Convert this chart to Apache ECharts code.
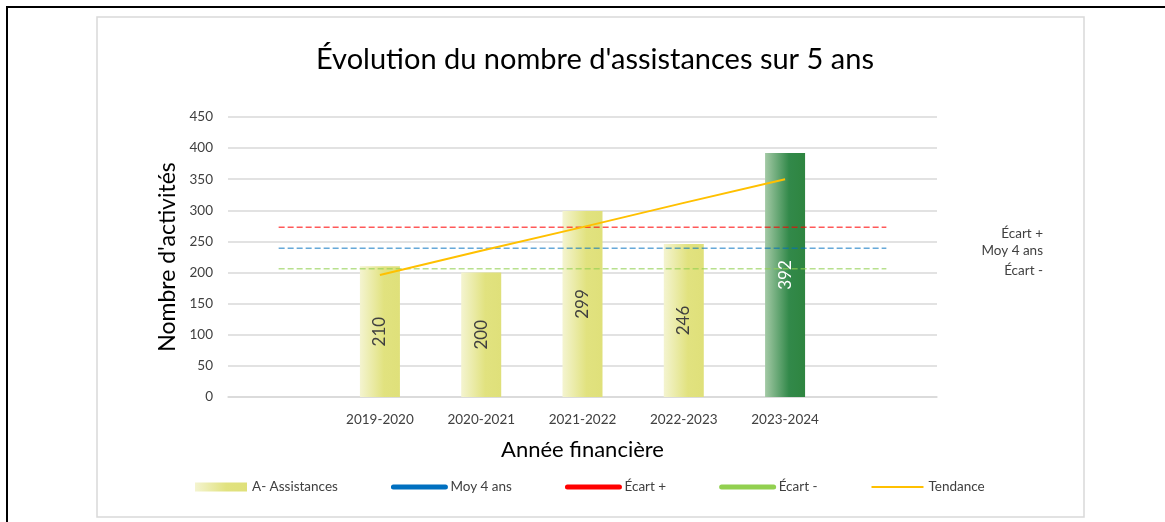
<!DOCTYPE html>
<html>
<head>
<meta charset="utf-8">
<script src="https://cdn.jsdelivr.net/npm/echarts@6/dist/echarts.min.js"></script>
<style>
html,body{margin:0;padding:0;background:#fff;}
#main{width:1165px;height:522px;}
</style>
</head>
<body>
<div id="main"></div>
<script>
// données
var annees = ['', '2019-2020', '2020-2021', '2021-2022', '2022-2023', '2023-2024', ' '];
var assistances = [null, 210, 200, 299, 246, 392, null];
var moy4ans = [239, 239, 239, 239, 239, 239, 239];
var ecartPlus = [273, 273, 273, 273, 273, 273, 273];
var ecartMoins = [206, 206, 206, 206, 206, 206, 206];
var tendance = [null, 196, 235, 273, 312, 350, null];
var yTicks = [0, 50, 100, 150, 200, 250, 300, 350, 400, 450];

var police = 'Lato, "Open Sans", sans-serif';

var jaune = new echarts.graphic.LinearGradient(0, 0, 1, 0, [
	{offset: 0, color: '#f4f4d0'},
	{offset: 0.6, color: '#e1e27f'},
	{offset: 1, color: '#dfe07a'}
]);
var vert = new echarts.graphic.LinearGradient(0, 0, 1, 0, [
	{offset: 0, color: '#a3c9a5'},
	{offset: 0.6, color: '#32894a'},
	{offset: 1, color: '#2e8540'}
]);

// la dernière année est en vert
var barData = assistances.map(function (v, i) {
	if (v === null) return null;
	if (i === 5) {
		return {value: v, itemStyle: {color: vert}, label: {color: '#ffffff'}};
	}
	return {value: v, itemStyle: {color: jaune}};
});

var myChart = echarts.init(document.getElementById('main'));

var option = {
	animation: false,
	title: {
		text: "Évolution du nombre d'assistances sur 5 ans",
		left: 590,
		textAlign: 'center',
		top: 40,
		textStyle: {fontFamily: police, fontSize: 29, fontWeight: 'normal', color: '#000'}
	},
	grid: {left: 228, right: 228, top: 117, bottom: 125},
	legend: {
		left: 190,
		top: 475,
		itemWidth: 52,
		itemHeight: 9,
		itemGap: 53,
		textStyle: {fontFamily: police, fontSize: 13.5, color: '#404040'},
		data: [
			{name: 'A- Assistances', icon: 'rect', itemStyle: {color: jaune}},
			{name: 'Moy 4 ans', itemStyle: {opacity: 0}, lineStyle: {type: 'solid', width: 5, cap: 'round', color: '#0070c0', opacity: 1}},
			{name: 'Écart +', itemStyle: {opacity: 0}, lineStyle: {type: 'solid', width: 5, cap: 'round', color: '#ff0000', opacity: 1}},
			{name: 'Écart -', itemStyle: {opacity: 0}, lineStyle: {type: 'solid', width: 5, cap: 'round', color: '#92d050', opacity: 1}},
			{name: 'Tendance', itemStyle: {opacity: 0}, lineStyle: {type: 'solid', width: 2, color: '#ffc000', opacity: 1}}
		]
	},
	xAxis: {
		type: 'category',
		data: annees,
		name: 'Année financière',
		nameLocation: 'middle',
		nameGap: 42,
		nameTextStyle: {fontFamily: police, fontSize: 22, color: '#000'},
		axisLine: {lineStyle: {color: '#d9d9d9', width: 1.5}},
		axisTick: {show: false},
		axisLabel: {fontFamily: police, fontSize: 13.5, color: '#404040', margin: 16, interval: 0}
	},
	yAxis: {
		type: 'value',
		min: yTicks[0],
		max: yTicks[yTicks.length - 1],
		interval: 50,
		name: "Nombre d'activités",
		nameLocation: 'middle',
		nameGap: 45,
		nameTextStyle: {fontFamily: police, fontSize: 23, color: '#000'},
		axisLine: {show: false},
		axisTick: {show: false},
		splitLine: {lineStyle: {color: '#d9d9d9', width: 1.5}},
		axisLabel: {fontFamily: police, fontSize: 13.5, color: '#404040', margin: 15}
	},
	series: [
		{
			name: 'A- Assistances',
			type: 'bar',
			barWidth: 40,
			data: barData,
			itemStyle: {color: jaune},
			label: {
				show: true,
				position: 'inside',
				rotate: 90,
				fontFamily: police,
				fontSize: 17,
				color: '#404040'
			},
			z: 2
		},
		{
			name: 'Moy 4 ans',
			type: 'line',
			data: moy4ans,
			symbol: 'none',
			lineStyle: {color: '#0070c0', width: 1.5, type: [6, 3], opacity: 0.6},
			itemStyle: {color: '#0070c0'},
			z: 3
		},
		{
			name: 'Écart +',
			type: 'line',
			data: ecartPlus,
			symbol: 'none',
			lineStyle: {color: '#ff0000', width: 1.5, type: [6, 3], opacity: 0.65},
			itemStyle: {color: '#ff0000'},
			z: 3
		},
		{
			name: 'Écart -',
			type: 'line',
			data: ecartMoins,
			symbol: 'none',
			lineStyle: {color: '#92d050', width: 1.5, type: [6, 3], opacity: 0.65},
			itemStyle: {color: '#92d050'},
			z: 3
		},
		{
			name: 'Tendance',
			type: 'line',
			data: tendance,
			symbol: 'none',
			lineStyle: {color: '#ffc000', width: 2},
			itemStyle: {color: '#ffc000'},
			z: 4
		}
	],
	graphic: [
		{
			type: 'rect',
			shape: {x: 97, y: 17, width: 987, height: 500},
			style: {fill: 'none', stroke: '#d9d9d9', lineWidth: 1.5},
			silent: true
		},
		{
			type: 'polyline',
			shape: {points: [[7, 522], [7, 7], [1165, 7]]},
			style: {fill: 'none', stroke: '#000', lineWidth: 2},
			silent: true
		},
		// libellés des lignes de référence, alignés à droite
		{
			type: 'text', right: 1165 - 1043, top: 227,
			style: {text: 'Écart +', fontFamily: police, fontSize: 13.5, fill: '#404040'}
		},
		{
			type: 'text', right: 1165 - 1043, top: 244,
			style: {text: 'Moy 4 ans', fontFamily: police, fontSize: 13.5, fill: '#404040'}
		},
		{
			type: 'text', right: 1165 - 1043, top: 264,
			style: {text: 'Écart -', fontFamily: police, fontSize: 13.5, fill: '#404040'}
		}
	]
};

myChart.setOption(option);
</script>
</body>
</html>
